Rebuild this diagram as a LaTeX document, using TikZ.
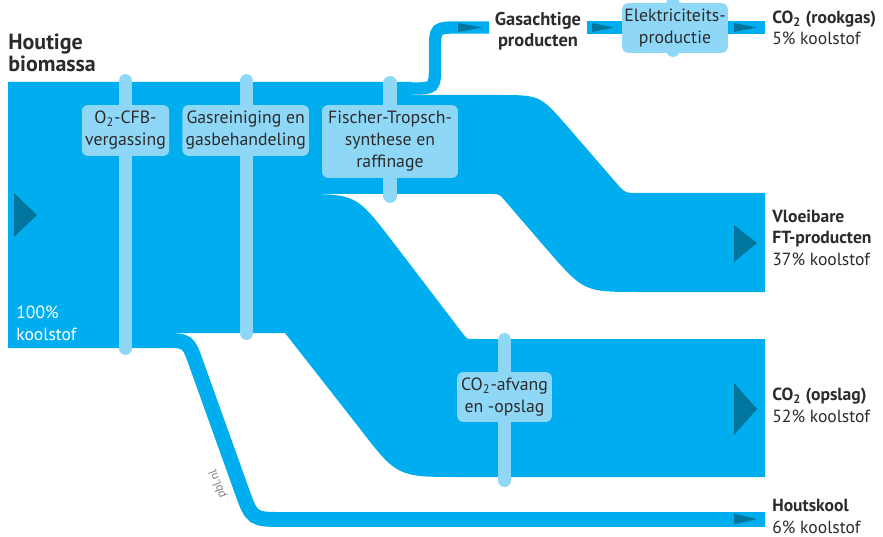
\documentclass[tikz,border=0pt]{standalone}
\usepackage{fontspec}
\setmainfont{PT Sans}
\usetikzlibrary{positioning}
\definecolor{PBL_Blue}{HTML}{00AEEF}
\definecolor{PBL_Light}{HTML}{8FD7F7}
\definecolor{PBL_Dark}{HTML}{00769F}
\definecolor{PBL_Ink}{HTML}{2B2B2B}

\begin{document}
\begin{tikzpicture}[
    x=0.02cm, y=-0.02cm,
    flow/.style={fill=PBL_Blue},
    pipe/.style={draw=PBL_Blue, line width=#1},
    flowtip/.style={fill=PBL_Dark},
    procbar/.style={draw=PBL_Light, line width=7.9pt, line cap=round},
    procbox/.style={fill=PBL_Light, rounded corners=3.4pt, inner sep=0pt, align=center, text=PBL_Ink, font=\fontsize{10.1}{12.5}\selectfont},
    heading/.style={inner sep=0pt, align=left, text=PBL_Ink, font=\fontsize{12.5}{13}\selectfont\bfseries},
    endtext/.style={inner sep=0pt, align=left, text=PBL_Ink, font=\fontsize{10}{12.2}\selectfont}
]
\useasboundingbox (0,0) rectangle (883,537);

\fill[flow] (8,348) -- (8,82) -- (412,82) -- (412,95) -- (498,95) .. controls (540,95) .. (567.6,126.7) -- (615.8,182.4) .. controls (625,193) .. (639,193) -- (765,193) -- (765,292) -- (640,292) .. controls (584,292) .. (547.2,249.8) -- (504.3,200) .. controls (499,194) .. (491,194) -- (297,194) .. controls (356,194) .. (392,240.8) -- (463.3,334.2) .. controls (467,339) .. (473,339) -- (765,339) -- (765,477) -- (460,477) .. controls (397,477) .. (358.6,427) -- (285,333) -- (160,333) -- (160,348) -- cycle;
\draw[pipe=7pt] (400,88.5) -- (411,88.5) .. controls (435,88.5) .. (435,64.5) -- (435,51.5) .. controls (435,27.5) .. (459,27.5) -- (489,27.5);
\draw[pipe=7pt] (587,27.5) -- (765,27.5);
\draw[pipe=8.5pt] (140,340.5) -- (163,340.5) .. controls (188,340.5) .. (196.4,364.1) -- (241.3,489.4) .. controls (252,519.5) .. (284,519.5) -- (765,519.5);

\fill[flowtip] (14,193) -- (37,215) -- (14,237) -- cycle;
\fill[flowtip] (734,225) -- (757,243) -- (734,262) -- cycle;
\fill[flowtip] (734,383) -- (757,409) -- (734,435) -- cycle;
\fill[flowtip] (734,513.5) -- (757,519) -- (734,524.5) -- cycle;
\fill[flowtip] (458,23) -- (482,27.5) -- (458,32) -- cycle;
\fill[flowtip] (592,23) -- (614,27.5) -- (592,32) -- cycle;
\fill[flowtip] (734,23) -- (757,27.5) -- (734,32) -- cycle;

\draw[procbar] (125.5,81) -- (125.5,348);
\draw[procbar] (246.5,81) -- (246.5,333);
\draw[procbar] (390.3,83) -- (390.3,196);
\draw[procbar] (504.5,340) -- (504.5,480);
\draw[procbar] (673,4) -- (673,50);

\node[procbox, minimum width=49.7pt, minimum height=28.9pt] (vergassing) at (125.5,130.5) {O\textsubscript{2}-CFB-\\vergassing};
\node[procbox, minimum width=72pt, minimum height=28.9pt] (gasreiniging) at (245.7,130.5) {Gasreiniging en\\gasbehandeling};
\node[procbox, minimum width=77.4pt, minimum height=41.4pt] (synthese) at (390,141.5) {Fischer-Tropsch-\\synthese en\\raffinage};
\node[procbox, minimum width=53.9pt, minimum height=28.3pt] (afvang) at (504.5,397) {CO\textsubscript{2}-afvang\\en -opslag};
\node[procbox, minimum width=60.1pt, minimum height=28.3pt] (elektriciteit) at (675,28) {Elektriciteits-\\productie};

\node[heading, anchor=base west] (biomassa) at (8,72) {Houtige\\biomassa};
\node[heading, anchor=base, align=center, font=\fontsize{10.5}{12.5}\selectfont\bfseries] (gasvormig) at (538,47) {Gasachtige\\producten};
\node[endtext, anchor=base west] (rookgas) at (772,45) {\textbf{CO\textsubscript{2} (rookgas)}\\5\% koolstof};
\node[endtext, anchor=base west] (vloeibaar) at (772,265) {\textbf{Vloeibare}\\\textbf{FT-producten}\\37\% koolstof};
\node[endtext, anchor=base west] (opslag) at (772,422) {\textbf{CO\textsubscript{2} (opslag)}\\52\% koolstof};
\node[endtext, anchor=base west] (houtskool) at (772,533) {\textbf{Houtskool}\\6\% koolstof};
\node[endtext, anchor=base west, text=white] (invoer) at (16,340) {100\%\\koolstof};
\node[inner sep=0pt, rotate=110, text=gray, font=\fontsize{7}{8}\selectfont] (bron) at (218,484) {pbl.nl};
\end{tikzpicture}
\end{document}
